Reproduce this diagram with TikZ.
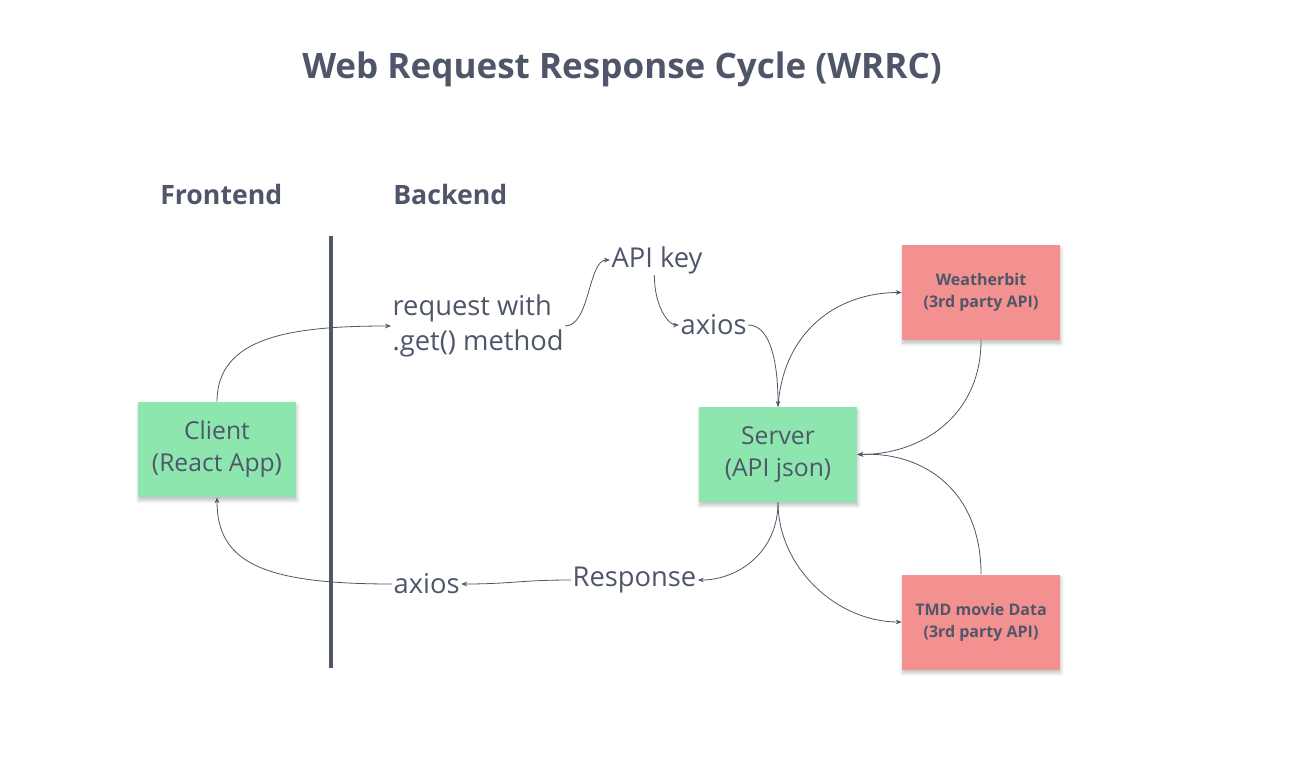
\documentclass[tikz,border=0pt]{standalone}
\usepackage{fontspec}
\setmainfont{Open Sans}
\usepackage{xcolor}
\usetikzlibrary{positioning, arrows.meta, shadows.blur}

\definecolor{inkgray}{HTML}{4F566A}
\definecolor{boxgreen}{HTML}{8CE6AE}
\definecolor{boxred}{HTML}{F29190}

\begin{document}
\begin{tikzpicture}[
    x=0.75pt, y=-0.75pt,
    every node/.style={text=inkgray},
    softshadow/.style={blur shadow={shadow blur steps=8, shadow xshift=0.6pt,
                       shadow yshift=-2.5pt, shadow blur radius=2.5pt, shadow opacity=25}},
    greenbox/.style={fill=boxgreen, minimum width=118.5pt, minimum height=71.25pt,
                     align=center, font=\fontsize{18.5}{24}\selectfont, softshadow},
    redbox/.style={fill=boxred, minimum width=118.5pt, minimum height=71.25pt,
                   align=center, font=\bfseries\fontsize{12}{16.5}\selectfont, softshadow},
    flowtext/.style={inner sep=1pt, anchor=west, align=left,
                     font=\fontsize{20.5}{26}\selectfont},
    heading/.style={anchor=west, inner sep=0pt, font=\bfseries\fontsize{20}{24}\selectfont},
    arrow/.style={-{Stealth[length=4.5pt, width=3.5pt]}, draw=inkgray, line width=0.6pt},
]
\useasboundingbox (0,0) rectangle (1298,784);

% title and column headings
\node[font=\bfseries\fontsize{26.3}{30}\selectfont] (title) at (622,69)
    {Web Request Response Cycle (WRRC)};
\node[heading] (front) at (160,195) {Frontend};
\node[heading] (back) at (393,195) {Backend};

% divider
\coordinate (divtop) at (331,236);
\coordinate (divbot) at (331,668);
\draw[inkgray, line width=3pt] (divtop) -- (divbot);

% boxes
\node[greenbox] (client) at (217,449.5) {Client\\(React App)};
\node[greenbox] (server) at (778,454.5) {Server\\(API json)};
\node[redbox] (weather) at (981,292.5) {Weatherbit\\(3rd party API)};
\node[redbox] (tmd) at (981,622) {TMD movie Data\\(3rd party API)};

% labels along the flow
\node[flowtext] (request) at (391,326) {request with\\.get() method};
\node[flowtext] (apikey) at (610,260) {API key};
\node[flowtext] (axiosin) at (679,325) {axios};
\node[flowtext] (response) at (571,580) {Response};
\node[flowtext] (axiosout) at (392,584) {axios};

% request path
\draw[arrow] (client.north) .. controls +(0,-65) and +(-100,0) .. (request.west);
\draw[arrow] (request.east) .. controls +(25,0) and +(-22,0) .. (apikey.west);
\draw[arrow] ([xshift=-2pt]apikey.south) .. controls +(0,32) and +(-10,0) .. (axiosin.west);
\draw[arrow] (axiosin.east) .. controls +(22,0) and +(0,-45) .. (server.north);

% third party calls
\draw[arrow] (server.north) .. controls +(5,-75) and +(-65,0) .. (weather.west);
\draw[arrow] (weather.south) .. controls +(0,75) and +(65,0) .. (server.east);
\draw[arrow] (tmd.north) .. controls +(0,-85) and +(65,-3) .. (server.east);
\draw[arrow] (server.south) .. controls +(0,65) and +(-65,0) .. (tmd.west);

% response path
\draw[arrow] (server.south) .. controls +(0,50) and +(40,0) .. (response.east);
\draw[arrow] (response.west) .. controls +(-50,0) and +(50,0) .. (axiosout.east);
\draw[arrow] (axiosout.west) .. controls +(-130,0) and +(0,65) .. (client.south);
\end{tikzpicture}
\end{document}
